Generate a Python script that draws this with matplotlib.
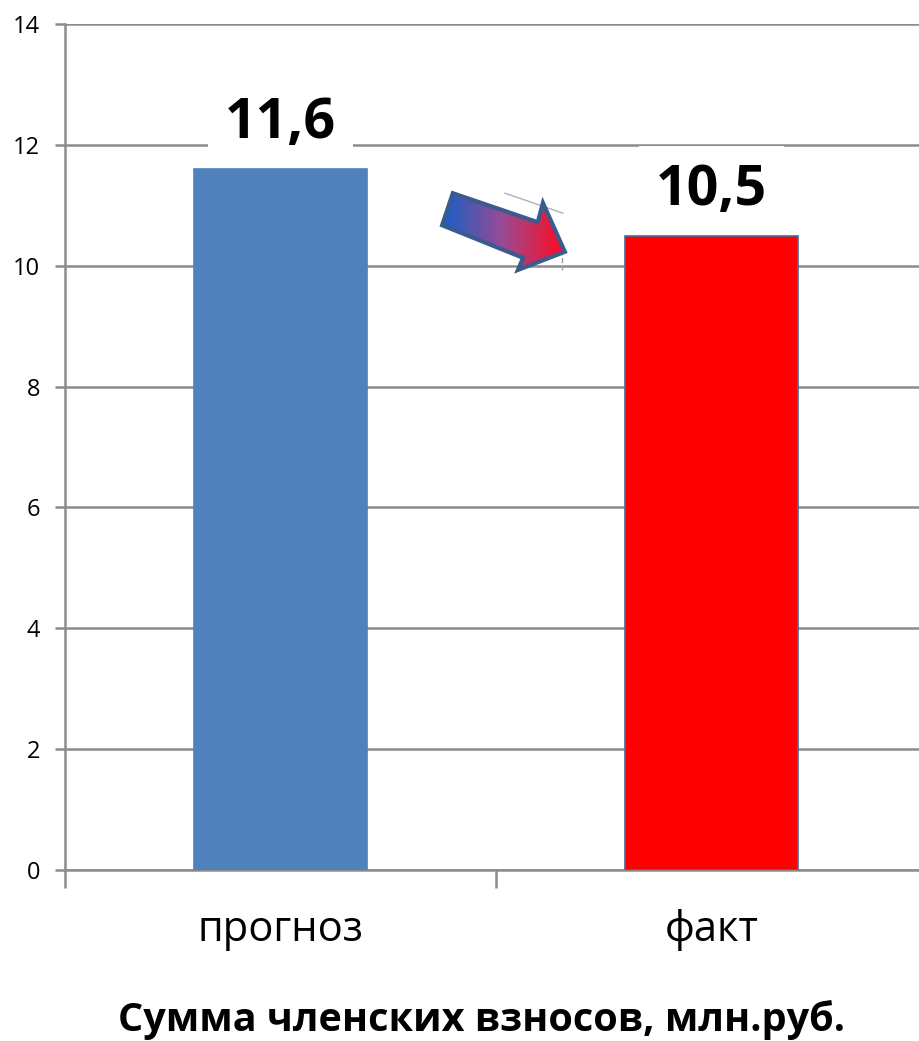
import numpy as np
import matplotlib.pyplot as plt
from matplotlib.patches import Polygon
from matplotlib.colors import LinearSegmentedColormap

plt.rcParams['font.family'] = ['Open Sans', 'DejaVu Sans']

categories = ['прогноз', 'факт']
values = [11.6, 10.5]
value_labels = ['11,6', '10,5']
bar_colors = ['#4F81BD', '#FF0000']
bar_edges = ['#4F81BD', '#4A6A96']
y_ticks = [0, 2, 4, 6, 8, 10, 12, 14]
title = 'Сумма членских взносов, млн.руб.'

# arrow shape between the bars (data coords)
arrow_x = [0.400, 0.597, 0.609, 0.660, 0.551, 0.563, 0.375]
arrow_y = [11.20, 10.72, 11.04, 10.23, 9.93, 10.13, 10.67]

GRID = '#8C8C8C'

fig = plt.figure(figsize=(9.2, 10.41), dpi=100)
ax = fig.add_axes([65 / 920, 171 / 1041, 855 / 920, 846 / 1041])

x = np.arange(len(categories))
ax.bar(x, values, width=0.4, color=bar_colors, edgecolor=bar_edges, linewidth=1.2, zorder=3)

ax.set_ylim(0, 14)
ax.set_xlim(-0.5, 1.484)
ax.set_yticks(y_ticks)
ax.set_yticklabels([str(t) for t in y_ticks], fontsize=17)
ax.yaxis.grid(True, color=GRID, linewidth=1.8, zorder=0)
ax.set_axisbelow(True)

# ticks between categories, labels under categories
ax.set_xticks([-0.5, 0.5, 1.5])
ax.set_xticklabels([])
ax.set_xticks(x, minor=True)
ax.set_xticklabels(categories, minor=True, fontsize=30)
ax.tick_params(axis='x', which='major', length=13, width=1.8, color=GRID)
ax.tick_params(axis='x', which='minor', length=0, pad=28)
ax.tick_params(axis='y', length=7, width=1.8, color=GRID, pad=11)

for s in ['top', 'right']:
    ax.spines[s].set_visible(False)
for s in ['left', 'bottom']:
    ax.spines[s].set_color(GRID)
    ax.spines[s].set_linewidth(1.8)

for xi, v, lab in zip(x, values, value_labels):
    ax.text(xi, v + 0.75, lab, ha='center', va='center', fontsize=40, fontweight='bold',
            zorder=4, bbox=dict(boxstyle='square,pad=0.3', fc='white', ec='none'))

# gradient arrow
pts = np.column_stack([arrow_x, arrow_y])
poly = Polygon(pts, closed=True, fc='none', ec='none', transform=ax.transData)
ax.add_patch(poly)
cmap = LinearSegmentedColormap.from_list('br', ['#1560C8', '#9B4A92', '#FF0A1E'])
grad = np.linspace(0, 1, 256).reshape(1, -1)
img = ax.imshow(grad, cmap=cmap, aspect='auto', zorder=5,
                extent=[min(arrow_x), max(arrow_x), min(arrow_y), max(arrow_y)])
img.set_clip_path(poly)
ax.add_patch(Polygon(pts, closed=True, fc='none', ec='#3B5B8E', lw=3, zorder=6,
                     joinstyle='miter'))
# faint leftover outline near the arrow
ax.plot([0.521, 0.655], [11.20, 10.87], color='#B0B0B0', lw=1, zorder=2)
ax.plot([0.653, 0.653], [9.93, 10.18], color='#A0A0A0', lw=1, ls='--', zorder=2)
ax.set_xlim(-0.5, 1.484)
ax.set_ylim(0, 14)

fig.text(482 / 920, 1 - 1020 / 1041, title, ha='center', va='center',
         fontsize=28.5, fontweight='bold')

fig.savefig('out.png', dpi=100)
